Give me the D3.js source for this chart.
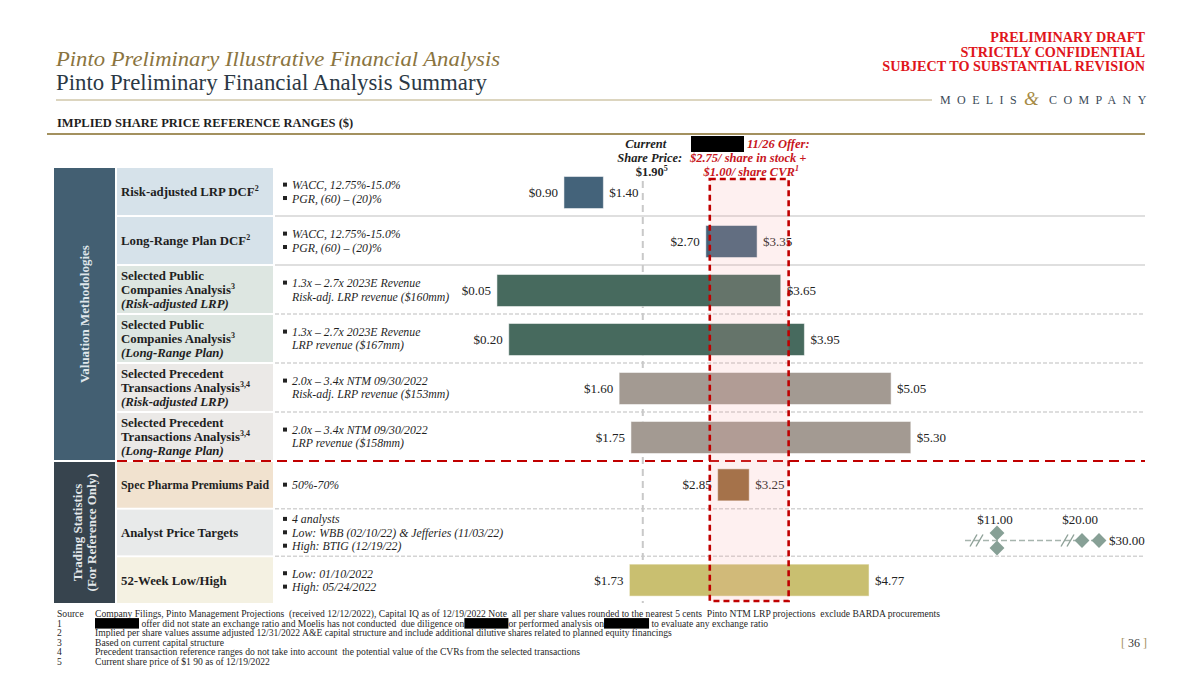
<!DOCTYPE html>
<html>
<head>
<meta charset="utf-8">
<script src="https://cdn.jsdelivr.net/npm/d3@7"></script>
<style>
  body { margin: 0; background: #fff; }
  svg { display: block; font-family: "Liberation Serif", "Times New Roman", serif; }
</style>
</head>
<body>
<svg id="chart" width="1200" height="676"></svg>
<script>
// ---- data ----
const valuationLabels = [
  ["Risk-adjusted LRP DCF^2"],
  ["Long-Range Plan DCF^2"],
  ["Selected Public", "Companies Analysis^3", "(Risk-adjusted LRP)"],
  ["Selected Public", "Companies Analysis^3", "(Long-Range Plan)"],
  ["Selected Precedent", "Transactions Analysis^3,4", "(Risk-adjusted LRP)"],
  ["Selected Precedent", "Transactions Analysis^3,4", "(Long-Range Plan)"]
];
const valuationNotes = [
  [["WACC, 12.75%-15.0%"], ["PGR, (60) – (20)%"]],
  [["WACC, 12.75%-15.0%"], ["PGR, (60) – (20)%"]],
  [["1.3x – 2.7x 2023E Revenue", "Risk-adj. LRP revenue ($160mm)"]],
  [["1.3x – 2.7x 2023E Revenue", "LRP revenue ($167mm)"]],
  [["2.0x – 3.4x NTM 09/30/2022", "Risk-adj. LRP revenue ($153mm)"]],
  [["2.0x – 3.4x NTM 09/30/2022", "LRP revenue ($158mm)"]]
];
const valuationLow = [0.90, 2.70, 0.05, 0.20, 1.60, 1.75];
const valuationHigh = [1.40, 3.35, 3.65, 3.95, 5.05, 5.30];

const tradingLabels = [["Spec Pharma Premiums Paid"], ["Analyst Price Targets"], ["52-Week Low/High"]];
const tradingNotes = [
  [["50%-70%"]],
  [["4 analysts"], ["Low: WBB (02/10/22) & Jefferies (11/03/22)"], ["High: BTIG (12/19/22)"]],
  [["Low: 01/10/2022"], ["High: 05/24/2022"]]
];
const tradingLow = [2.85, null, 1.73];
const tradingHigh = [3.25, null, 4.77];

const analystTargets = [11.00, 11.00, 20.00, 30.00];
const analystTicks = [11.00, 20.00, 30.00];

const currentPrice = 1.90;
const offerStock = 2.75;
const offerCvr = 1.00;

const footnoteKeys = ["Source", "1", "2", "3", "4", "5"];
const footnoteTexts = [
  "Company Filings, Pinto Management Projections  (received 12/12/2022), Capital IQ as of 12/19/2022 Note  all per share values rounded to the nearest 5 cents  Pinto NTM LRP projections  exclude BARDA procurements",
  "[R] offer did not state an exchange ratio and Moelis has not conducted  due diligence on[R]or performed analysis on[R] to evaluate any exchange ratio",
  "Implied per share values assume adjusted 12/31/2022 A&E capital structure and include additional dilutive shares related to planned equity financings",
  "Based on current capital structure",
  "Precedent transaction reference ranges do not take into account  the potential value of the CVRs from the selected transactions",
  "Current share price of $1 90 as of 12/19/2022"
];

// ---- styles ----
const valuationBarColors = ["#44637a", "#44637a", "#476a5e", "#476a5e", "#a39a92", "#a39a92"];
const valuationLabelFill = ["#d6e2ea", "#d6e2ea", "#dde6e1", "#dde6e1", "#ebe9e7", "#ebe9e7"];
const tradingBarColors = ["#956838", null, "#c9bf70"];
const tradingLabelFill = ["#f1e2cf", "#e8eaea", "#f4f1e2"];
const redactWidths = [44, 44, 45];
const RED = "#c00000";
const GOLD = "#a3915f";

const svg = d3.select("#chart");
const fmt = d3.format("$.2f");

// ---- scales ----
const x = d3.scaleLinear().domain([0, 6]).range([493, 966]);
const yVal = d3.scaleBand().domain(d3.range(valuationLow.length)).range([168, 460]).paddingInner(0.04);
const yTrade = d3.scaleBand().domain(d3.range(tradingLow.length)).range([462, 603]).paddingInner(0.04);
const xAnalyst = d3.scaleLinear().domain(analystTicks).range([997, 1082, 1099]);
const BAR_H = 32;

// ---- header ----
svg.append("text").attr("x", 56).attr("y", 66)
  .attr("font-size", 22).attr("font-style", "italic").attr("fill", "#8a7440")
  .attr("textLength", 444).attr("lengthAdjust", "spacingAndGlyphs")
  .text("Pinto Preliminary Illustrative Financial Analysis");
svg.append("text").attr("x", 56).attr("y", 90)
  .attr("font-size", 22.5).attr("fill", "#2b3844")
  .attr("textLength", 431).attr("lengthAdjust", "spacingAndGlyphs")
  .text("Pinto Preliminary Financial Analysis Summary");

["PRELIMINARY DRAFT", "STRICTLY CONFIDENTIAL", "SUBJECT TO SUBSTANTIAL REVISION"].forEach((t, i) => {
  svg.append("text").attr("x", 1145).attr("y", 42 + i * 14.5)
    .attr("text-anchor", "end").attr("font-size", 14.2).attr("font-weight", "bold")
    .attr("fill", "#e0151b").text(t);
});

svg.append("line").attr("x1", 56).attr("x2", 932).attr("y1", 100).attr("y2", 100)
  .attr("stroke", "#b9ab80").attr("stroke-width", 1.2);

// Moelis logo as text
const logoStyle = g => g.attr("y", 104).attr("font-size", 12).attr("fill", "#3b4a57").attr("letter-spacing", 6.4);
svg.append("text").call(logoStyle).attr("x", 940).text("MOELIS");
svg.append("text").attr("x", 1024).attr("y", 105).attr("font-size", 19).attr("font-style", "italic")
  .attr("fill", "#a68b45").text("&");
svg.append("text").call(logoStyle).attr("x", 1049).text("COMPANY");

svg.append("text").attr("x", 57).attr("y", 127)
  .attr("font-size", 12.5).attr("font-weight", "bold").attr("fill", "#1e1e1e")
  .text("IMPLIED SHARE PRICE REFERENCE RANGES ($)");
svg.append("line").attr("x1", 47).attr("x2", 1145).attr("y1", 134).attr("y2", 134)
  .attr("stroke", GOLD).attr("stroke-width", 2);

// ---- helpers ----
function drawLabel(lines, x0, cy) {
  const lh = 13.6;
  const top = cy - (lines.length - 1) * lh / 2 + 4.5;
  lines.forEach((line, i) => {
    const parts = line.split("^");
    const t = svg.append("text").attr("x", x0).attr("y", top + i * lh)
      .attr("font-size", 12.8).attr("font-weight", "bold").attr("fill", "#1f1f1f")
      .attr("font-style", line.startsWith("(") ? "italic" : "normal")
      .text(parts[0]);
    if (parts[1]) {
      t.append("tspan").attr("dy", -5).attr("font-size", 8).text(parts[1]);
    }
    if (t.node().getComputedTextLength() > 148) {
      t.attr("textLength", 148).attr("lengthAdjust", "spacingAndGlyphs");
    }
  });
}

function drawNotes(bullets, cy) {
  const lh = 13.4;
  const all = [];
  bullets.forEach(b => b.forEach((l, j) => all.push({ text: l, bullet: j === 0 })));
  const top = cy - (all.length - 1) * lh / 2 + 4.3;
  all.forEach((l, i) => {
    if (l.bullet) {
      svg.append("rect").attr("x", 283).attr("y", top + i * lh - 6.5)
        .attr("width", 4).attr("height", 4).attr("fill", "#222");
    }
    svg.append("text").attr("x", 292).attr("y", top + i * lh)
      .attr("font-size", 11.8).attr("font-style", "italic").attr("fill", "#1f1f1f")
      .text(l.text);
  });
}

function drawBar(lo, hi, cy, color) {
  svg.append("rect").attr("x", x(lo)).attr("y", cy - BAR_H / 2)
    .attr("width", x(hi) - x(lo)).attr("height", BAR_H)
    .attr("fill", color).attr("stroke", "#ffffff").attr("stroke-opacity", 0.5);
  svg.append("text").attr("x", x(lo) - 6).attr("y", cy + 4.5)
    .attr("text-anchor", "end").attr("font-size", 13).attr("fill", "#222").text(fmt(lo));
  svg.append("text").attr("x", x(hi) + 6).attr("y", cy + 4.5)
    .attr("font-size", 13).attr("fill", "#222").text(fmt(hi));
}

// ---- left category bands ----
const valTop = yVal(0), valBot = yVal(valuationLow.length - 1) + yVal.bandwidth();
const trTop = yTrade(0), trBot = yTrade(tradingLow.length - 1) + yTrade.bandwidth();

svg.append("rect").attr("x", 54).attr("y", valTop).attr("width", 61).attr("height", valBot - valTop)
  .attr("fill", "#435f72");
svg.append("text").attr("transform", `translate(89,${(valTop + valBot) / 2}) rotate(-90)`)
  .attr("text-anchor", "middle").attr("font-size", 13).attr("font-weight", "bold")
  .attr("fill", "#dfe6eb").text("Valuation Methodologies");

svg.append("rect").attr("x", 54).attr("y", trTop).attr("width", 61).attr("height", trBot - trTop)
  .attr("fill", "#37444e");
["Trading Statistics", "(For Reference Only)"].forEach((t, i) => {
  svg.append("text").attr("transform", `translate(${82 + i * 14},${(trTop + trBot) / 2}) rotate(-90)`)
    .attr("text-anchor", "middle").attr("font-size", 13).attr("font-weight", "bold")
    .attr("fill", "#e3e7ea").text(t);
});

// ---- row backgrounds and separators ----
valuationLabels.forEach((lines, i) => {
  svg.append("rect").attr("x", 117).attr("y", yVal(i)).attr("width", 156).attr("height", yVal.bandwidth())
    .attr("fill", valuationLabelFill[i]);
  if (i > 0) {
    const sy = yVal(i) - 1;
    svg.append("line").attr("x1", 275).attr("x2", 1145).attr("y1", sy).attr("y2", sy)
      .attr("stroke", "#d4d4d4").attr("stroke-width", 1.5)
      .attr("stroke-dasharray", i < 3 ? null : "4,2");
  }
});
tradingLabels.forEach((lines, i) => {
  svg.append("rect").attr("x", 117).attr("y", yTrade(i)).attr("width", 156).attr("height", yTrade.bandwidth())
    .attr("fill", tradingLabelFill[i]);
  if (i > 0) {
    const sy = yTrade(i) - 1;
    svg.append("line").attr("x1", 275).attr("x2", 1145).attr("y1", sy).attr("y2", sy)
      .attr("stroke", "#d4d4d4").attr("stroke-width", 1.5).attr("stroke-dasharray", "4,2");
  }
});

// ---- current share price reference line ----
svg.append("line").attr("x1", x(currentPrice)).attr("x2", x(currentPrice))
  .attr("y1", 181).attr("y2", trBot)
  .attr("stroke", "#c9c9c9").attr("stroke-width", 2).attr("stroke-dasharray", "7,5");

// ---- rows ----
valuationLabels.forEach((lines, i) => {
  const cy = yVal(i) + yVal.bandwidth() / 2;
  drawLabel(lines, 121, cy);
  drawNotes(valuationNotes[i], cy);
  drawBar(valuationLow[i], valuationHigh[i], cy + 1, valuationBarColors[i]);
});
tradingLabels.forEach((lines, i) => {
  const cy = yTrade(i) + yTrade.bandwidth() / 2;
  drawLabel(lines, 121, cy);
  drawNotes(tradingNotes[i], cy);
  if (tradingLow[i] != null) drawBar(tradingLow[i], tradingHigh[i], cy, tradingBarColors[i]);
});

// ---- analyst price targets (broken axis) ----
const aRow = 1;
const aCy = yTrade(aRow) + yTrade.bandwidth() / 2 + 8;
svg.append("line").attr("x1", xAnalyst(11) - 32).attr("x2", xAnalyst(30)).attr("y1", aCy).attr("y2", aCy)
  .attr("stroke", "#a7b5ae").attr("stroke-width", 1.6).attr("stroke-dasharray", "6,3");
[xAnalyst(11) - 22, xAnalyst(20) - 16].forEach(bx => {
  [0, 6].forEach(off => {
    svg.append("line").attr("x1", bx + off - 5).attr("y1", aCy + 6).attr("x2", bx + off + 2).attr("y2", aCy - 6)
      .attr("stroke", "#8ea198").attr("stroke-width", 1.4);
  });
});
const counts = d3.rollup(analystTargets, v => v.length, d => d);
const seen = new Map();
analystTargets.forEach(v => {
  const n = counts.get(v);
  const k = seen.get(v) || 0;
  seen.set(v, k + 1);
  const dy = n > 1 ? (k - (n - 1) / 2) * 15 : 0;
  svg.append("path").attr("d", d3.symbol(d3.symbolSquare, 110)())
    .attr("transform", `translate(${xAnalyst(v)},${aCy + dy}) rotate(45)`)
    .attr("fill", "#87a096");
});
analystTicks.forEach((v, i) => {
  const last = i === analystTicks.length - 1;
  svg.append("text")
    .attr("x", last ? xAnalyst(v) + 10 : xAnalyst(v) - 2)
    .attr("y", last ? aCy + 4.5 : aCy - 17)
    .attr("text-anchor", last ? "start" : "middle")
    .attr("font-size", 13).attr("fill", "#222").text(fmt(v));
});

// ---- divider between valuation and trading ----
svg.append("line").attr("x1", 117).attr("x2", 1145).attr("y1", (valBot + trTop) / 2).attr("y2", (valBot + trTop) / 2)
  .attr("stroke", RED).attr("stroke-width", 2.2).attr("stroke-dasharray", "10,6");

// ---- offer range box ----
const offerLo = offerStock, offerHi = offerStock + offerCvr;
svg.append("rect").attr("x", x(offerLo)).attr("y", 179)
  .attr("width", x(offerHi) - x(offerLo)).attr("height", trBot - 2 - 179)
  .attr("fill", "#f7a6a6").attr("fill-opacity", 0.17)
  .attr("stroke", RED).attr("stroke-width", 2.6).attr("stroke-dasharray", "6,4");

// ---- annotations ----
const cp = svg.append("g").attr("font-size", 12.5).attr("font-weight", "bold").attr("fill", "#1f1f1f")
  .attr("text-anchor", "middle");
cp.append("text").attr("x", x(currentPrice) + 3).attr("y", 148).attr("font-style", "italic").text("Current");
cp.append("text").attr("x", x(currentPrice) + 7).attr("y", 162).attr("font-style", "italic").text("Share Price:");
const cpv = cp.append("text").attr("x", x(currentPrice) + 9).attr("y", 176).text(fmt(currentPrice));
cpv.append("tspan").attr("dy", -5).attr("font-size", 8).text("5");

const offerCx = (x(offerLo) + x(offerHi)) / 2;
svg.append("rect").attr("x", 691).attr("y", 136).attr("width", 53).attr("height", 16).attr("fill", "#000");
const of = svg.append("g").attr("font-size", 12.5).attr("font-weight", "bold").attr("font-style", "italic")
  .attr("fill", "#c8161d");
of.append("text").attr("x", 747).attr("y", 148).text("11/26 Offer:");
of.append("text").attr("x", offerCx - 1).attr("y", 162).attr("text-anchor", "middle")
  .text(`${fmt(offerStock)}/ share in stock +`);
const cvr = of.append("text").attr("x", offerCx + 2).attr("y", 176).attr("text-anchor", "middle")
  .text(`${fmt(offerCvr)}/ share CVR`);
cvr.append("tspan").attr("dy", -5).attr("font-size", 8).text("1");

// ---- footnotes ----
footnoteKeys.forEach((k, i) => {
  const fy = 617 + i * 9.6;
  svg.append("text").attr("x", 57).attr("y", fy).attr("font-size", 9.6).attr("fill", "#1f1f1f").text(k);
  const pieces = footnoteTexts[i].split("[R]");
  let cx = 95;
  pieces.forEach((p, j) => {
    if (j > 0) {
      const w = redactWidths[j - 1];
      svg.append("rect").attr("x", cx).attr("y", fy - 8.5).attr("width", w).attr("height", 10.5).attr("fill", "#000");
      cx += w;
    }
    if (p.length) {
      const t = svg.append("text").attr("x", cx).attr("y", fy).attr("font-size", 9.6)
        .attr("fill", "#1f1f1f").style("white-space", "pre").text(p);
      if (i === 0) t.attr("textLength", 845).attr("lengthAdjust", "spacingAndGlyphs");
      cx += t.node().getComputedTextLength();
    }
  });
});

// page number
const pg = svg.append("text").attr("x", 1147).attr("y", 647).attr("text-anchor", "end").attr("font-size", 12);
pg.append("tspan").attr("fill", GOLD).text("[ ");
pg.append("tspan").attr("fill", "#333").text("36");
pg.append("tspan").attr("fill", GOLD).text(" ]");
</script>
</body>
</html>
